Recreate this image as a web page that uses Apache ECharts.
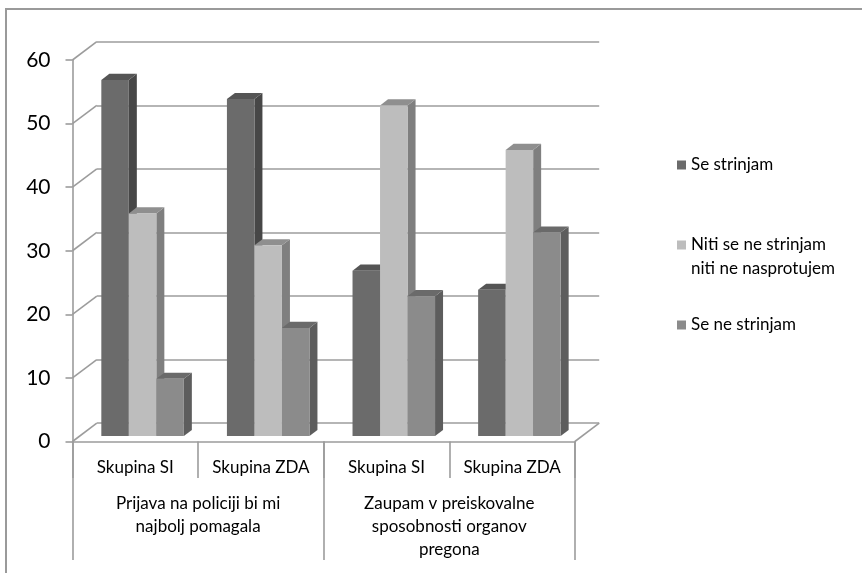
<!DOCTYPE html>
<html>
<head>
<meta charset="utf-8">
<script src="https://cdn.jsdelivr.net/npm/echarts@6/dist/echarts.min.js"></script>
<style>
  html, body { margin: 0; padding: 0; background: #fff; }
  #chart { width: 862px; height: 573px; }
</style>
</head>
<body>
<div id="chart"></div>
<script>
// ---- data ----
const groupLabels = ['Prijava na policiji bi mi\nnajbolj pomagala', 'Zaupam v preiskovalne\nsposobnosti organov\npregona'];
const categories = ['Skupina SI', 'Skupina ZDA', 'Skupina SI', 'Skupina ZDA'];
const seriesNames = ['Se strinjam', 'Niti se ne strinjam niti ne nasprotujem', 'Se ne strinjam'];
const seStrinjam = [56, 53, 26, 23];
const nitiNiti = [35, 30, 52, 45];
const seNeStrinjam = [9, 17, 22, 32];
const yMin = 0, yMax = 60, yStep = 10;

// ---- 3D projection / styling ----
const FONT = 'Lato, "Liberation Sans", sans-serif';
const AXIS_GREY = '#9c9c9c';
const FRONT = { left: 72.5, top: 60, width: 502.4, height: 381.5 };
const DEPTH = [24.3, -18.3];          // front plane -> back wall
const BAR_PLANE = 0.3;                // bar front face position within depth
const BAR_DEPTH = [8, -6.1];          // bar thickness
const BAR_FRACTION = 0.219;           // bar width relative to category band
const palettes = [
  { front: '#6b6b6b', side: '#474747', top: '#555555' },
  { front: '#bdbdbd', side: '#7f7f7f', top: '#8f8f8f' },
  { front: '#8b8b8b', side: '#5d5d5d', top: '#6a6a6a' }
];
const seriesValues = [seStrinjam, nitiNiti, seNeStrinjam];

function shifted(g, f) {
  return { left: g.left + DEPTH[0] * f, top: g.top + DEPTH[1] * f,
           width: g.width, height: g.height, outerBoundsMode: 'none' };
}

const ticks = [];
for (let v = yMin; v <= yMax; v += yStep) ticks.push(v);

function barRenderer(idx) {
  const pal = palettes[idx];
  return function (params, api) {
    const cat = api.value(0), val = api.value(1);
    const base = api.coord([cat, 0]);
    const top = api.coord([cat, val]);
    const band = api.size([1, 0])[0];
    const w = band * BAR_FRACTION;
    const x0 = base[0] + (idx - 1.5) * w;
    const x1 = x0 + w;
    const dx = BAR_DEPTH[0], dy = BAR_DEPTH[1];
    return {
      type: 'group',
      children: [
        { type: 'polygon', shape: { points: [[x1, top[1]], [x1 + dx, top[1] + dy], [x1 + dx, base[1] + dy], [x1, base[1]]] },
          style: { fill: pal.side } },
        { type: 'polygon', shape: { points: [[x0, top[1]], [x0 + dx, top[1] + dy], [x1 + dx, top[1] + dy], [x1, top[1]]] },
          style: { fill: pal.top } },
        { type: 'rect', shape: { x: x0, y: top[1], width: w, height: base[1] - top[1] },
          style: { fill: pal.front } }
      ]
    };
  };
}

// side-wall diagonals at each tick, plus the right edge of the floor
function wallRenderer(params, api) {
  const v = api.value(1);
  const c = api.coord([0, v]);
  const band = api.size([1, 0])[0];
  const xl = c[0] - band / 2;
  const lineStyle = { stroke: AXIS_GREY, lineWidth: 1.6 };
  const children = [
    { type: 'line', shape: { x1: xl, y1: c[1], x2: xl + DEPTH[0], y2: c[1] + DEPTH[1] }, style: lineStyle }
  ];
  if (v === yMin) {
    const xr = xl + band * categories.length;
    children.push({ type: 'line', shape: { x1: xr, y1: c[1], x2: xr + DEPTH[0], y2: c[1] + DEPTH[1] }, style: lineStyle });
  }
  return { type: 'group', children: children };
}

const chart = echarts.init(document.getElementById('chart'), null, { renderer: 'canvas' });

const option = {
  animation: false,
  backgroundColor: '#ffffff',
  textStyle: { fontFamily: FONT },
  graphic: [
    { type: 'rect', shape: { x: 6, y: 9, width: 900, height: 600 },
      style: { fill: 'none', stroke: '#9a9a9a', lineWidth: 2 }, silent: true, z: -1 }
  ],
  grid: [
    Object.assign({}, FRONT, { outerBoundsMode: 'none' }),
    shifted(FRONT, 1),
    shifted(FRONT, BAR_PLANE)
  ],
  xAxis: [
    { // sub categories
      gridIndex: 0, type: 'category', position: 'bottom', data: categories,
      axisLine: { show: true, lineStyle: { color: AXIS_GREY, width: 1.6 } },
      axisTick: { show: true, length: 36.5, interval: 0, lineStyle: { color: AXIS_GREY, width: 1.6 } },
      axisLabel: { interval: 0, margin: 15, fontSize: 17, lineHeight: 23, color: '#000', fontFamily: FONT },
      splitLine: { show: false }
    },
    { // group categories
      gridIndex: 0, type: 'category', position: 'bottom', data: groupLabels,
      axisLine: { show: false },
      axisTick: { show: true, length: 118.5, interval: 0, lineStyle: { color: AXIS_GREY, width: 1.6 } },
      axisLabel: { interval: 0, margin: 51, fontSize: 17, lineHeight: 23, color: '#000', fontFamily: FONT },
      splitLine: { show: false }
    },
    { gridIndex: 1, type: 'category', data: categories, show: false },
    { gridIndex: 2, type: 'category', data: categories, show: false }
  ],
  yAxis: [
    {
      gridIndex: 0, type: 'value', min: yMin, max: yMax, interval: yStep,
      axisLine: { show: true, lineStyle: { color: AXIS_GREY, width: 1.6 } },
      axisTick: { show: true, length: 7, lineStyle: { color: AXIS_GREY, width: 1.6 } },
      axisLabel: { margin: 22, fontSize: 21, color: '#000', fontFamily: FONT },
      splitLine: { show: false }
    },
    {
      gridIndex: 1, type: 'value', min: yMin, max: yMax, interval: yStep,
      axisLine: { show: false }, axisTick: { show: false }, axisLabel: { show: false },
      splitLine: { show: true, lineStyle: { color: AXIS_GREY, width: 1.6 } }
    },
    {
      gridIndex: 2, type: 'value', min: yMin, max: yMax, interval: yStep, show: false,
      splitLine: { show: false }
    }
  ],
  legend: {
    orient: 'vertical', left: 672, top: 148, itemGap: 32,
    itemWidth: 9, itemHeight: 9, icon: 'rect',
    data: seriesNames,
    formatter: function (name) {
      return name === seriesNames[1] ? '\nNiti se ne strinjam\nniti ne nasprotujem' : name;
    },
    textStyle: { fontSize: 17, lineHeight: 24, color: '#000', fontFamily: FONT }
  },
  series: [
    {
      type: 'custom', name: 'walls', xAxisIndex: 0, yAxisIndex: 0, silent: true,
      renderItem: wallRenderer, data: ticks.map(v => [0, v]), z: 1
    }
  ].concat(seriesValues.map((vals, i) => ({
    type: 'custom', name: seriesNames[i], xAxisIndex: 3, yAxisIndex: 2,
    itemStyle: { color: palettes[i].front },
    renderItem: barRenderer(i),
    data: vals.map((v, j) => [j, v]),
    z: 3
  })))
};

chart.setOption(option);
</script>
</body>
</html>
